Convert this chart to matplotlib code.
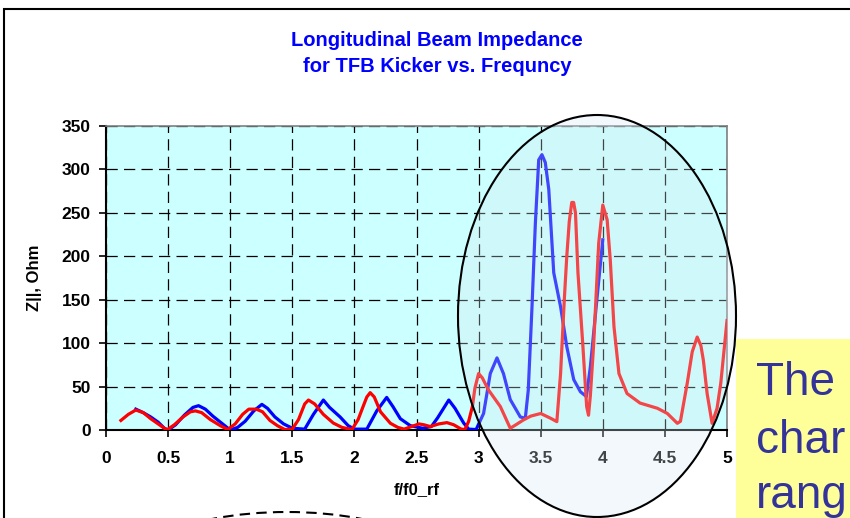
import matplotlib
matplotlib.use("Agg")
import matplotlib.pyplot as plt
from matplotlib.patches import Ellipse, Rectangle

plt.rcParams["font.family"] = ["Liberation Sans", "DejaVu Sans"]
plt.rcParams["font.weight"] = "bold"

# values (f/f0_rf, Z||)
blue_x = [0.24, 0.30, 0.36, 0.42, 0.47, 0.50,
          0.56, 0.63, 0.70, 0.745, 0.80, 0.86, 0.93, 1.00,
          1.06, 1.12, 1.19, 1.255, 1.30, 1.36, 1.43, 1.50,
          1.60, 1.67, 1.75, 1.80, 1.885, 1.95, 2.00,
          2.10, 2.18, 2.26, 2.31, 2.37, 2.45, 2.55, 2.62, 2.67, 2.76, 2.81, 2.88, 2.92, 2.98,
          3.04, 3.094, 3.148, 3.20, 3.255, 3.336, 3.376, 3.40, 3.43, 3.457, 3.484, 3.51,
          3.537, 3.565, 3.605, 3.66, 3.71, 3.766, 3.82, 3.868, 3.90, 3.955, 4.00]
blue_y = [24, 20, 15, 9, 2, 0,
          6, 17, 26, 28, 24, 16, 8, 0,
          3, 10, 22, 29.5, 25, 15, 7, 2,
          1, 18, 34.5, 26, 15, 5, 1,
          1, 22, 37.5, 27, 13, 5, 2, 4, 14, 34.5, 25, 8, 1, 0.5,
          19, 65, 83, 65, 35, 15, 13.5, 46, 142, 238, 311, 317,
          308, 277, 181, 142, 96, 58, 44, 38.5, 73, 154, 219]

red_x = [0.12, 0.18, 0.24, 0.30, 0.36, 0.41, 0.46, 0.49,
         0.55, 0.62, 0.68, 0.72, 0.77, 0.84, 0.92, 0.98,
         1.04, 1.10, 1.15, 1.21, 1.26, 1.32, 1.38, 1.44, 1.50,
         1.55, 1.60, 1.63, 1.68, 1.75, 1.83, 1.90, 1.98,
         2.03, 2.07, 2.10, 2.127, 2.16, 2.21, 2.29, 2.35, 2.40, 2.46, 2.52, 2.56, 2.61,
         2.68, 2.745, 2.80, 2.86, 2.89, 2.92, 2.95, 2.97, 3.00, 3.03, 3.08, 3.175,
         3.255, 3.30, 3.36, 3.42, 3.50, 3.58, 3.63, 3.66, 3.69, 3.71, 3.73, 3.75,
         3.765, 3.78, 3.80, 3.84, 3.87, 3.885, 3.90, 3.927, 3.967, 4.00, 4.035,
         4.06, 4.09, 4.13, 4.195, 4.30, 4.44, 4.52, 4.60, 4.625, 4.68, 4.72,
         4.76, 4.79, 4.81, 4.84, 4.88, 4.92, 4.95, 5.00]
red_y = [11, 18, 23, 20, 13, 8, 3, 0,
         6, 15, 21, 22, 20, 12, 5, 0.5,
         7, 18, 24, 24, 21, 11, 5, 0.5, 1,
         12, 30, 34.5, 30, 18, 8, 3, 0.5,
         12, 27, 38, 43, 38, 21, 7.7, 3, 1, 4, 7, 6, 4,
         7, 8.5, 6, 1, 0.5, 10, 27, 48, 65, 60, 46, 27,
         2, 6, 11.5, 16, 19, 13.5, 9.6, 65, 150, 200, 240, 262,
         262, 250, 181, 96, 27, 17, 40, 100, 215, 259, 242,
         196, 119, 65, 42, 31, 25, 19, 7.7, 10, 54, 90,
         107, 97, 80, 42, 7.7, 25, 54, 126]

x_ticks = [0, 0.5, 1, 1.5, 2, 2.5, 3, 3.5, 4, 4.5, 5]
x_tick_labels = ["0", "0.5", "1", "1.5", "2", "2.5", "3", "3.5", "4", "4.5", "5"]
y_ticks = [0, 50, 100, 150, 200, 250, 300, 350]

W, H = 850, 518
fig = plt.figure(figsize=(8.5, 5.18), dpi=100)
ax = fig.add_axes([106 / W, 1 - 430 / H, 621 / W, 304 / H])
ax.set_facecolor("#ccffff")

ax.plot(blue_x, blue_y, color="#0000ff", linewidth=2.3, solid_joinstyle="round", zorder=3)
ax.plot(red_x, red_y, color="#ff0000", linewidth=2.3, solid_joinstyle="round", zorder=4)

ax.set_xlim(0, 5)
ax.set_ylim(0, 350)
ax.set_xticks(x_ticks)
ax.set_xticklabels(x_tick_labels)
ax.set_yticks(y_ticks)
ax.grid(True, color="black", linestyle=(0, (9, 5)), linewidth=0.9)
ax.set_axisbelow(True)

ax.tick_params(axis="x", direction="out", length=5, width=1.2, pad=10, labelsize=12.5)
ax.tick_params(axis="y", direction="out", length=5, width=1.2, pad=6, labelsize=12.5)
for lab in ax.get_xticklabels() + ax.get_yticklabels():
    lab.set_fontweight("bold")

for side in ["left", "bottom"]:
    ax.spines[side].set_color("black")
    ax.spines[side].set_linewidth(1.5)
for side in ["top", "right"]:
    ax.spines[side].set_color("#808080")
    ax.spines[side].set_linewidth(1.2)

ax.set_xlabel("f/f0_rf", fontsize=12, fontweight="bold", labelpad=12)
ax.set_ylabel("Z||, Ohm", fontsize=12, fontweight="bold", labelpad=14)

fig.text(437 / W, 1 - 40 / H, "Longitudinal Beam Impedance", color="#0000ff",
         fontsize=14.5, fontweight="bold", ha="center", va="center")
fig.text(437 / W, 1 - 67 / H, "for TFB Kicker vs. Frequncy", color="#0000ff",
         fontsize=14.5, fontweight="bold", ha="center", va="center")

# slide frame
fig.add_artist(Rectangle((4 / W, -0.1), 1.2, 1 - 9 / H + 0.1, transform=fig.transFigure,
                         facecolor="none", edgecolor="black", linewidth=1.5, zorder=0.5))

# highlight ellipse
fig.add_artist(Ellipse((597 / W, 1 - 316 / H), 278 / W, 402 / H, transform=fig.transFigure,
                       facecolor=(0.84, 0.92, 0.95, 0.3), edgecolor="black",
                       linewidth=1.5, zorder=5))

# dashed shape at the bottom
fig.add_artist(Ellipse((287 / W, 1 - 602 / H), 390 / W, 180 / H, transform=fig.transFigure,
                       facecolor="none", edgecolor="black", linestyle=(0, (5, 3)),
                       linewidth=1.5, zorder=5))

# yellow callout box
fig.add_artist(Rectangle((736 / W, -0.05), 0.5, 1 - 339 / H + 0.05, transform=fig.transFigure,
                         facecolor="#ffff99", edgecolor="none", zorder=6))
for txt, yb in [("The", 395), ("char", 453), ("rang", 508)]:
    fig.text(756 / W, 1 - yb / H, txt, color="#333399", fontsize=33, fontweight="normal",
             ha="left", va="baseline", zorder=7)

fig.savefig("out.png", dpi=100)
